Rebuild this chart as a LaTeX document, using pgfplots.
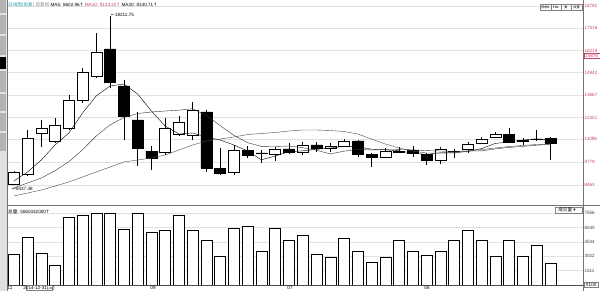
\documentclass[border=0pt]{standalone}
\usepackage{fontspec}
\setmainfont{Liberation Sans}
\newfontfamily\cjk{Noto Sans CJK SC}
\newfontfamily\djv{DejaVu Sans}
\usepackage{pgfplots}
\usepackage{pgfplotstable}
\pgfplotsset{compat=1.18}
\definecolor{lblred}{RGB}{200,70,100}
\definecolor{teal2}{RGB}{40,160,170}
\definecolor{gridc}{RGB}{225,225,225}
\newcommand\tf{\fontsize{4.6}{5}\selectfont}

\pgfplotstableread{
x o h l c
0 8500 9300 8437.48 9214
1 9098 11637 8983 11176
2 11464 12214 10656 11753
3 11003 12330 10887 11926
4 11753 13657 11637 13368
5 13368 15215 13195 14984
6 14753 17234 14638 16138
7 16311 18211.75 14061 14407
8 14176 14522 11060 12445
9 12214 12676 9560 10599
10 10425 10714 9329 10021
11 10368 12330 10194 11753
12 11407 12445 11291 12099
13 11349 13253 11060 12791
14 12676 12791 9214 9444
15 9444 10599 9040 9156
16 9214 10772 9040 10483
17 10483 10714 10021 10194
18 10310 10483 9733 10298
19 10252 10656 9848 10541
20 10541 10887 10252 10368
21 10368 10945 10194 10772
22 10772 10945 10368 10598
23 10598 10887 10368 10714
24 10714 11118 10656 11003
25 11003 11060 10079 10252
26 10252 10310 9502 10079
27 10079 10598 10021 10425
28 10368 10656 10310 10400
29 10483 10714 10079 10310
30 10252 10310 9618 9906
31 9906 10656 9675 10541
32 10425 10541 10021 10400
33 10541 10945 10310 10830
34 10887 11233 10887 11118
35 11233 11522 11233 11406
36 11406 11752 10887 10945
37 11060 11175 10772 11003
38 11118 11637 11003 11100
39 11175 11233 9906 10887
}\candles

\pgfplotstableread{
x ma5 ma10 ma20
0 8694 8290 7829
1 9214 8579 8002
2 9906 8867 8175
3 10772 9289 8406
4 11464 9808 8637
5 12618 10500 8925
6 13610 11297 9214
7 14176 11931 9502
8 14291 12358 9791
9 13714 12589 9906
10 12733 12676 10021
11 11868 12733 10194
12 11406 12780 10483
13 11464 12866 10772
14 11233 12474 11002
15 11060 11891 11118
16 10772 11325 11233
17 10425 10904 11377
18 9918 10691 11435
19 10137 10685 11493
20 10379 10714 11579
21 10437 10616 11637
22 10518 10466 11637
23 10598 10258 11608
24 10691 10414 11550
25 10668 10523 11406
26 10529 10483 11118
27 10494 10506 10829
28 10437 10518 10598
29 10298 10494 10425
30 10229 10448 10310
31 10321 10425 10310
32 10321 10408 10339
33 10402 10420 10425
34 10564 10431 10512
35 10864 10547 10598
36 10945 10633 10685
37 11060 10691 10743
38 11118 10760 10800
39 11072 10818 10829
}\mas

\pgfplotstableread{
x v
0 3255
1 5040
2 3360
3 2100
4 7140
5 7350
6 7560
7 7560
8 5880
9 7560
10 5565
11 5775
12 7350
13 5775
14 4725
15 3045
16 5985
17 6195
18 3570
19 5985
20 4725
21 5250
22 3255
23 2940
24 4935
25 3570
26 2415
27 2940
28 4725
29 3570
30 3150
31 3570
32 4725
33 5775
34 4725
35 3045
36 4725
37 3045
38 4200
39 2310
}\vol

\pgfplotsset{
  pane/.style={scale only axis, width=576pt, xmin=-0.494, xmax=41.37,
    axis line style={draw=none}, tick style={draw=none},
    xtick=\empty, clip=true},
  price/.style={pane, at={(7pt,86pt)}, anchor=south west, height=205pt,
    ymin=7310, ymax=19138},
}

\begin{document}
\begin{tikzpicture}[x=1pt,y=1pt]
\useasboundingbox (0,0) rectangle (600,291);
\fill[white] (0,0) rectangle (600,291);

% price pane: grid, wicks, labels
\begin{axis}[price,
  ytick={8463,9779,11096,12351,13667,14942,16219,17516,18792},
  yticklabels={8463,9779,11096,12351,13667,14942,16219,17516,18792},
  yticklabel pos=right,
  yticklabel style={font=\tf, text=lblred, xshift=-2pt},
  ymajorgrids, grid style={gridc, line width=0.5pt}]
\addplot[draw=none, mark=none, forget plot,
  error bars/.cd, y dir=plus, y explicit,
  error bar style={draw=black, line width=0.5pt}, error mark=none]
  table[x=x, y=l, y error plus expr={\thisrow{h}-\thisrow{l}}] {\candles};
\end{axis}

% candle bodies
\begin{axis}[price, ytick=\empty, ybar stacked, bar width=0.8]
\addplot[draw=none, fill=none] table[x=x, y expr={min(\thisrow{o},\thisrow{c})}] {\candles};
\addplot[draw=black, fill=white, line width=0.5pt] table[x=x, y expr={max(\thisrow{c}-\thisrow{o},0)}] {\candles};
\addplot[draw=black, fill=black, line width=0.5pt] table[x=x, y expr={max(\thisrow{o}-\thisrow{c},0)}] {\candles};
\end{axis}

% moving averages
\begin{axis}[price, ytick=\empty]
\addplot[black, line width=0.4pt, mark=none] table[x=x, y=ma5] {\mas};
\addplot[black!80, line width=0.4pt, mark=none] table[x=x, y=ma10] {\mas};
\addplot[black!70, line width=0.4pt, mark=none] table[x=x, y=ma20] {\mas};
\end{axis}

% volume pane
\begin{axis}[pane, at={(7pt,6pt)}, anchor=south west, height=80pt,
  ymin=0, ymax=8400,
  ytick={1511,3022,4534,6045,7556},
  yticklabels={1511,3022,4534,6045,7556},
  yticklabel pos=right,
  yticklabel style={font=\tf, text=black!75, xshift=-2pt},
  ymajorgrids, grid style={gridc, line width=0.5pt},
  ybar, bar width=0.8, bar shift=0pt]
\addplot[draw=black, fill=white, line width=0.5pt] table[x=x, y=v] {\vol};
\end{axis}

% frame lines
\draw[black!55, line width=0.6pt] (7,0) -- (7,291);
\draw[black!55, line width=0.6pt] (583,0) -- (583,291);
\draw[black!55, line width=0.6pt] (7,86) -- (600,86);
\draw[black!70, line width=0.6pt] (7,6) -- (583,6);

% left tab bar
\fill[black!12] (0,0) rectangle (6.5,291);
\foreach \a/\b in {291/278, 276/257, 255/236, 220/199, 197/180, 178/160, 158/140}{
  \fill[black!30] (0.3,\a) rectangle (6.2,\b);}
\fill[black] (0.3,234) rectangle (6.2,222);

% header
\node[anchor=west, inner sep=0pt, font=\tf] at (8,286)
  {{\cjk\color{teal2}日线图(前复)}\ {\cjk\color{black!45}前复权}\ MA5: 8602.96{\djv ↑}\ {\color{lblred}MA10: 9133.22{\djv ↑}}\ MA20: 8140.71{\djv ↑}};
\node[anchor=west, inner sep=0pt, font=\tf] at (8,79)
  {{\cjk 总量}: 5060332000{\djv ↑}};
\draw[black!50, line width=0.4pt] (555,84) rectangle (582,78);
\node[inner sep=0pt, font=\tf] at (567,81) {{\cjk 成交量} {\djv ▾}};
\foreach \xa/\xb in {540/551,551/561,561/571,571/582}{
  \draw[black!50, line width=0.4pt] (\xa,286.5) rectangle (\xb,281);}
\node[inner sep=0pt, font=\fontsize{3.2}{3.5}\selectfont] at (545.5,283.7) {\cjk 指标A};
\node[inner sep=0pt, font=\fontsize{3.2}{3.5}\selectfont] at (556,283.7) {FML};
\node[inner sep=0pt, font=\fontsize{3.2}{3.5}\selectfont] at (566,283.7) {\cjk 复};
\node[inner sep=0pt, font=\fontsize{3.2}{3.5}\selectfont] at (576.5,283.7) {\cjk 设置};
\node[anchor=west, inner sep=0pt, font=\tf] at (111,276) {{\djv ←}18211.75};
\node[anchor=west, inner sep=0pt, font=\tf] at (12,102.5) {{\djv ←}8437.48};
\draw[lblred, line width=0.4pt] (584,237.3) rectangle (600,232.3);
\node[anchor=west, inner sep=0pt, font=\tf, text=lblred] at (585,234.8) {15878};

% x labels
\node[inner sep=0pt, font=\tf] at (10,3) {11};
\draw[black!50, line width=0.4pt] (26,0.5) rectangle (52,5.5);
\node[inner sep=0pt, font=\tf] at (39,3) {2014-12-31({\cjk 三})};
\node[inner sep=0pt, font=\tf] at (153,3) {09};
\node[inner sep=0pt, font=\tf] at (290,3) {07};
\node[inner sep=0pt, font=\tf] at (427,3) {06};
\draw[black!50, line width=0.4pt] (584,8.5) rectangle (598,3.5);
\node[inner sep=0pt, font=\tf] at (591,6) {X100};
\end{tikzpicture}
\end{document}
